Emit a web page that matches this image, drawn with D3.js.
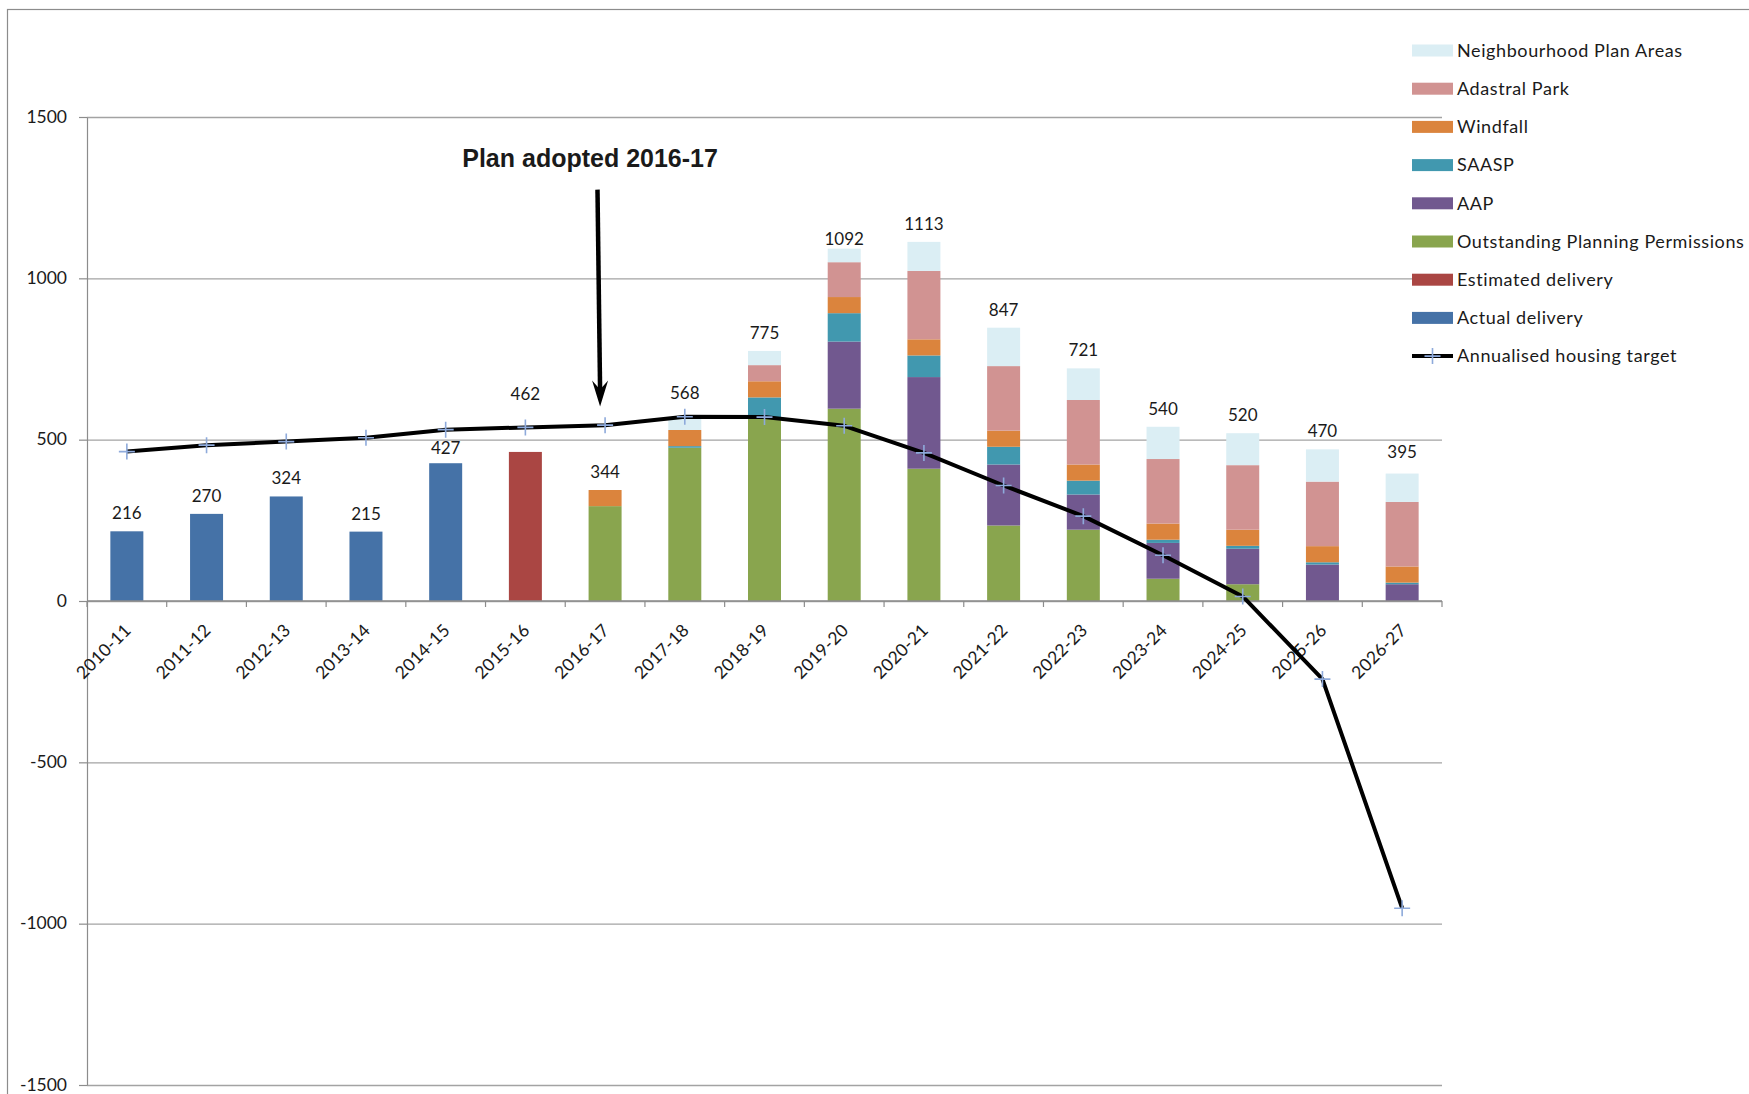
<!DOCTYPE html>
<html>
<head>
<meta charset="utf-8">
<script src="https://cdn.jsdelivr.net/npm/d3@7"></script>
<style>
  body { margin: 0; background: #fff; }
  text { font-family: Lato, "Noto Sans", sans-serif; fill: #1a1a1a; }
</style>
</head>
<body>
<div id="the_chart"></div>
<script>
// categories (financial years)
var years = ["2010-11", "2011-12", "2012-13", "2013-14", "2014-15", "2015-16", "2016-17",
  "2017-18", "2018-19", "2019-20", "2020-21", "2021-22", "2022-23", "2023-24",
  "2024-25", "2025-26", "2026-27"];

// stacked series
var actualDelivery = [216, 270, 324, 215, 427, 0, 0, 0, 0, 0, 0, 0, 0, 0, 0, 0, 0];
var estimatedDelivery = [0, 0, 0, 0, 0, 462, 0, 0, 0, 0, 0, 0, 0, 0, 0, 0, 0];
var outstandingPermissions = [0, 0, 0, 0, 0, 0, 294, 475, 567, 596, 410, 234, 221, 69, 52, 0, 0];
var aap = [0, 0, 0, 0, 0, 0, 0, 0, 0, 208, 284, 189, 109, 111, 110, 113, 52];
var saasp = [0, 0, 0, 0, 0, 0, 0, 5, 64, 88, 67, 55, 43, 10, 9, 7, 5];
var windfall = [0, 0, 0, 0, 0, 0, 50, 50, 50, 50, 50, 50, 50, 50, 50, 50, 50];
var adastralPark = [0, 0, 0, 0, 0, 0, 0, 0, 50, 108, 212, 200, 200, 200, 200, 200, 200];
var neighbourhoodPlan = [0, 0, 0, 0, 0, 0, 0, 38, 44, 42, 90, 119, 98, 100, 99, 100, 88];

// line series
var housingTarget = [463, 483, 494, 506, 531, 538, 545, 571, 570, 543, 459, 358, 263, 142, 14, -242, -952];

// y axis ticks
var yTicks = [-1500, -1000, -500, 0, 500, 1000, 1500];

// series keys, names and colours (bottom of the stack first)
var seriesKeys = ["actual", "estimated", "opp", "aap", "saasp", "windfall", "adastral", "npa"];
var seriesNames = ["Actual delivery", "Estimated delivery", "Outstanding Planning Permissions",
  "AAP", "SAASP", "Windfall", "Adastral Park", "Neighbourhood Plan Areas"];
var seriesColors = ["#4572A7", "#AA4643", "#89A54E", "#71588F", "#4198AF", "#DB843D", "#D19392", "#DBEEF4"];
var lineName = "Annualised housing target";

// build the table d3.stack needs
var seriesValues = [actualDelivery, estimatedDelivery, outstandingPermissions, aap, saasp,
  windfall, adastralPark, neighbourhoodPlan];
var table = years.map(function(yr, i) {
  var row = { year: yr };
  seriesKeys.forEach(function(k, j) { row[k] = seriesValues[j][i]; });
  return row;
});

// total label nudges (px above the bar top), as placed in the original
var labelLift = { "2014-15": 9, "2015-16": 52, "2017-18": 19, "2019-20": 4, "2026-27": 16 };

// dimensions
var W = 1749, H = 1094;
var plot = { left: 87, right: 1442, top: 117, bottom: 1085 };

var svg = d3.select("#the_chart")
  .append("svg")
  .attr("width", W)
  .attr("height", H);

// chart area frame (runs off the right and bottom edges)
svg.append("rect")
  .attr("x", 7.5).attr("y", 9.5)
  .attr("width", 2000).attr("height", 2000)
  .attr("fill", "none")
  .attr("stroke", "#8c8c8c")
  .attr("stroke-width", 1.2);

var x = d3.scaleBand()
  .domain(years)
  .range([plot.left, plot.right])
  .paddingInner(0.586)
  .paddingOuter(0.293);

var y = d3.scaleLinear()
  .domain([-1500, 1500])
  .range([plot.bottom, plot.top]);

// gridlines
svg.append("g")
  .attr("transform", "translate(" + plot.left + ",0)")
  .call(d3.axisLeft(y).tickValues(yTicks).tickSize(-(plot.right - plot.left)).tickFormat(""))
  .call(function(g) { g.select(".domain").remove(); })
  .selectAll("line")
  .attr("stroke", "#a3a3a3")
  .attr("stroke-width", 1.4);

// y axis
var yAxis = svg.append("g")
  .attr("transform", "translate(" + plot.left + ",0)")
  .call(d3.axisLeft(y).tickValues(yTicks).tickSize(8).tickPadding(12).tickSizeOuter(0)
    .tickFormat(function(d) { return String(d); }));
yAxis.select(".domain").attr("stroke", "#8c8c8c").attr("stroke-width", 1.2);
yAxis.selectAll(".tick line").attr("stroke", "#8c8c8c").attr("stroke-width", 1.2);
yAxis.selectAll("text")
  .style("font-family", "Lato, sans-serif")
  .style("font-size", "17.5px")
  .attr("dy", "0.3em")
  .attr("fill", "#1a1a1a");

// bars
var stacked = d3.stack().keys(seriesKeys)(table);

svg.append("g")
  .selectAll("g")
  .data(stacked)
  .enter()
  .append("g")
  .attr("fill", function(d, i) { return seriesColors[i]; })
  .selectAll("rect")
  .data(function(d) { return d; })
  .enter()
  .append("rect")
  .attr("x", function(d) { return x(d.data.year); })
  .attr("y", function(d) { return y(d[1]); })
  .attr("width", x.bandwidth())
  .attr("height", function(d) { return y(d[0]) - y(d[1]); });

// x axis at zero, ticks on category boundaries
var y0 = y(0);
var gap = (x.step() - x.bandwidth()) / 2;
var boundaries = years.map(function(d) { return x(d) - gap; });
boundaries.push(plot.right);

var xAxis = svg.append("g");
xAxis.append("line")
  .attr("x1", plot.left).attr("x2", plot.right)
  .attr("y1", y0).attr("y2", y0)
  .attr("stroke", "#8c8c8c")
  .attr("stroke-width", 1.4);
xAxis.selectAll(".btick")
  .data(boundaries)
  .enter()
  .append("line")
  .attr("x1", function(d) { return d; })
  .attr("x2", function(d) { return d; })
  .attr("y1", y0).attr("y2", y0 + 6)
  .attr("stroke", "#8c8c8c")
  .attr("stroke-width", 1.2);
xAxis.selectAll(".xlab")
  .data(years)
  .enter()
  .append("text")
  .attr("transform", function(d) {
    return "translate(" + (x(d) + x.bandwidth() / 2 + 1) + "," + (y0 + 26) + ") rotate(-45)";
  })
  .attr("text-anchor", "end")
  .attr("dy", "0.35em")
  .style("font-size", "17.5px")
  .style("letter-spacing", "0.2px")
  .text(function(d) { return d; });

// total labels above each bar
svg.append("g")
  .selectAll("text")
  .data(table)
  .enter()
  .append("text")
  .attr("x", function(d) { return x(d.year) + x.bandwidth() / 2; })
  .attr("y", function(d) {
    var total = d3.sum(seriesKeys, function(k) { return d[k]; });
    var lift = labelLift[d.year] !== undefined ? labelLift[d.year] : 12;
    return y(total) - lift;
  })
  .attr("text-anchor", "middle")
  .style("font-size", "17px")
  .text(function(d) { return d3.sum(seriesKeys, function(k) { return d[k]; }); });

// housing target line
var line = d3.line()
  .x(function(d, i) { return x(years[i]) + x.bandwidth() / 2; })
  .y(function(d) { return y(d); });

svg.append("path")
  .datum(housingTarget)
  .attr("d", line)
  .attr("fill", "none")
  .attr("stroke", "#000")
  .attr("stroke-width", 4)
  .attr("stroke-linejoin", "round");

var plus = "M-8,0H8M0,-8V8";
svg.append("g")
  .selectAll("path")
  .data(housingTarget)
  .enter()
  .append("path")
  .attr("transform", function(d, i) {
    return "translate(" + (x(years[i]) + x.bandwidth() / 2) + "," + y(d) + ")";
  })
  .attr("d", plus)
  .attr("stroke", "#8eaadb")
  .attr("stroke-width", 1.6)
  .attr("fill", "none");

// annotation: plan adoption arrow
var arrowX = x("2016-17") + x.bandwidth() / 2 - 5;
var arrowTop = y(1275), arrowTip = y(603);
var lean = 2.6;
svg.append("line")
  .attr("x1", arrowX - lean).attr("y1", arrowTop)
  .attr("x2", arrowX).attr("y2", arrowTip - 16)
  .attr("stroke", "#000")
  .attr("stroke-width", 4.5);
svg.append("path")
  .attr("d", "M" + arrowX + "," + arrowTip +
    "L" + (arrowX - 8) + "," + (arrowTip - 26) +
    "L" + arrowX + "," + (arrowTip - 17) +
    "L" + (arrowX + 8) + "," + (arrowTip - 26) + "Z")
  .attr("fill", "#000");
svg.append("text")
  .attr("x", arrowX - 10)
  .attr("y", arrowTop - 23)
  .attr("text-anchor", "middle")
  .style("font-family", "'Liberation Sans', Arial, sans-serif")
  .style("font-weight", "bold")
  .style("font-size", "25px")
  .attr("fill", "#000")
  .text("Plan adopted 2016-17");

// legend (top of stack first, then the line)
var legendItems = seriesKeys.map(function(k, i) {
  return { name: seriesNames[i], color: seriesColors[i], type: "bar" };
}).reverse();
legendItems.push({ name: lineName, color: "#000", type: "line" });

var legend = svg.append("g")
  .attr("transform", "translate(1412,50.5)");

var item = legend.selectAll("g")
  .data(legendItems)
  .enter()
  .append("g")
  .attr("transform", function(d, i) { return "translate(0," + (i * 38.2) + ")"; });

item.filter(function(d) { return d.type === "bar"; })
  .append("rect")
  .attr("x", 0).attr("y", -6)
  .attr("width", 41).attr("height", 12)
  .attr("fill", function(d) { return d.color; });

var lineItem = item.filter(function(d) { return d.type === "line"; });
lineItem.append("line")
  .attr("x1", 0).attr("x2", 41)
  .attr("y1", 0).attr("y2", 0)
  .attr("stroke", "#000")
  .attr("stroke-width", 4);
lineItem.append("path")
  .attr("transform", "translate(20.5,0)")
  .attr("d", plus)
  .attr("stroke", "#8eaadb")
  .attr("stroke-width", 1.6);

item.append("text")
  .attr("x", 45)
  .attr("dy", "0.35em")
  .style("font-size", "18px")
  .style("letter-spacing", "0.6px")
  .text(function(d) { return d.name; });
</script>
</body>
</html>
